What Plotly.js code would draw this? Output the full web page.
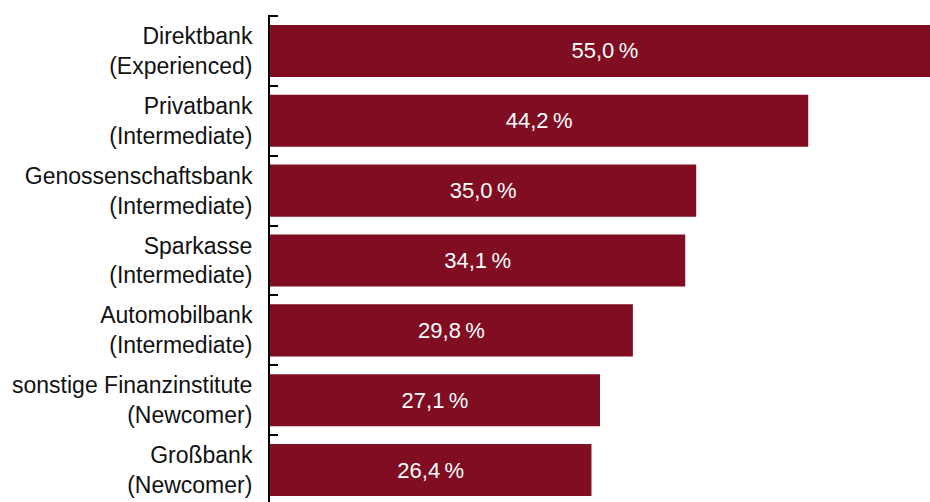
<!DOCTYPE html>
<html>
<head>
<meta charset="utf-8">
<script src="https://cdn.plot.ly/plotly-3.0.1.min.js"></script>
<style>html,body{margin:0;padding:0;background:#fff;}#chart{width:930px;height:502px;}</style>
</head>
<body>
<div id="chart"></div>
<script>
var categories = [
  "Direktbank<br>(Experienced)",
  "Privatbank<br>(Intermediate)",
  "Genossenschaftsbank<br>(Intermediate)",
  "Sparkasse<br>(Intermediate)",
  "Automobilbank<br>(Intermediate)",
  "sonstige Finanzinstitute<br>(Newcomer)",
  "Großbank<br>(Newcomer)"
];
var values = [55.0, 44.2, 35.0, 34.1, 29.8, 27.1, 26.4];
var valueLabels = values.map(function (v) { return v.toFixed(1).replace('.', ',') + '\u2009%'; });

var trace = {
  type: 'bar',
  orientation: 'h',
  x: values,
  y: categories,
  text: valueLabels,
  textposition: 'inside',
  insidetextanchor: 'middle',
  textangle: 0,
  insidetextfont: {family: 'Liberation Sans, Arial, sans-serif', size: 22, color: '#ffffff'},
  marker: {color: '#800D22'},
  hoverinfo: 'none',
  cliponaxis: true
};

var layout = {
  width: 930,
  height: 502,
  margin: {l: 270, r: 0, t: 15, b: 0, pad: 0},
  paper_bgcolor: '#ffffff',
  plot_bgcolor: '#ffffff',
  showlegend: false,
  bargap: 0.255,
  uniformtext: {mode: false},
  xaxis: {
    range: [0, 54.2],
    visible: false,
    showgrid: false,
    zeroline: false
  },
  yaxis: {
    type: 'category',
    autorange: false,
    range: [6.457, -0.514],
    showline: true,
    linecolor: '#000000',
    linewidth: 2,
    ticks: 'inside',
    tickson: 'boundaries',
    ticklen: 8,
    tickwidth: 2,
    tickcolor: '#000000',
    showgrid: false,
    zeroline: false,
    ticklabelstandoff: 11,
    tickfont: {family: 'Liberation Sans, Arial, sans-serif', size: 23, color: '#111111'}
  },
  shapes: [{
    type: 'line',
    xref: 'paper', yref: 'y',
    x0: 0, x1: 8 / 660,
    y0: -0.5, y1: -0.5,
    line: {color: '#000000', width: 2}
  }]
};

Plotly.newPlot('chart', [trace], layout, {displayModeBar: false, staticPlot: true});
</script>
</body>
</html>
